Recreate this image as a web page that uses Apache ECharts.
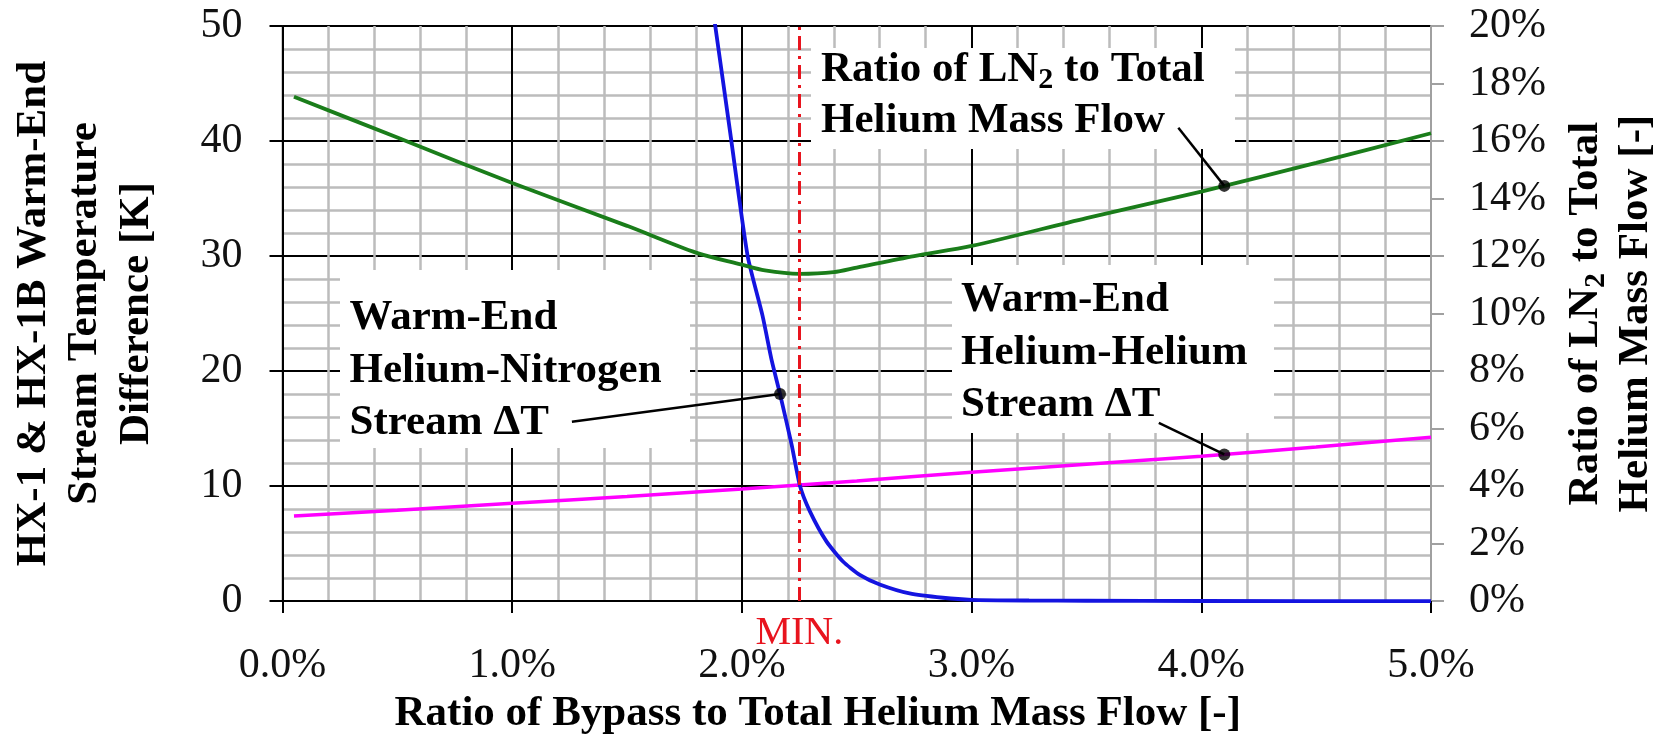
<!DOCTYPE html>
<html><head><meta charset="utf-8">
<script src="https://cdn.jsdelivr.net/npm/echarts@6/dist/echarts.min.js"></script>
<style>html,body{margin:0;padding:0;background:#fff}#c{width:1669px;height:740px}</style>
</head><body><div id="c"></div>
<script>
const FONT = '"Liberation Serif","Times New Roman",serif';

// ---- data (x = ratio of bypass to total helium mass flow, %) ----
const xLabels = ['0.0%', '1.0%', '2.0%', '3.0%', '4.0%', '5.0%'];
const rightLabels = ['0%', '2%', '4%', '6%', '8%', '10%', '12%', '14%', '16%', '18%', '20%'];

const ln2X   = [0.05, 0.5, 1.0, 1.5, 1.8, 2.0, 2.1, 2.25, 2.4, 2.5, 2.75, 3.0, 3.5, 4.0, 4.5, 5.0];
const ln2Pct = [17.54, 16.12, 14.54, 13.05, 12.12, 11.7, 11.5, 11.38, 11.44, 11.6, 12.0, 12.35, 13.32, 14.24, 15.24, 16.27];

const heHeX  = [0.05, 0.5, 1.0, 1.5, 2.0, 2.5, 3.0, 3.5, 4.0, 4.5, 5.0];
const heHeDT = [7.4, 7.9, 8.5, 9.1, 9.75, 10.45, 11.2, 11.9, 12.6, 13.4, 14.25];

const heN2X  = [1.85, 1.884, 1.95, 2.025, 2.09, 2.13, 2.166, 2.216, 2.253, 2.296, 2.368, 2.44, 2.513, 2.60, 2.73, 2.875, 3.0, 3.25, 3.5, 4.0, 5.0];
const heN2DT = [54.8, 50, 40.6, 30, 24.8, 20.9, 18.0, 13.65, 10.0, 7.8, 5.19, 3.44, 2.28, 1.45, 0.67, 0.29, 0.11, 0.05, 0.03, 0.01, 0];

const minBypass = 2.25;

// callout dots and leader-line start points (data coordinates)
const ln2Dot   = [4.1, 14.44];  const ln2Lead   = [3.90, 16.46];
const heN2Dot  = [2.166, 18.0]; const heN2Lead  = [1.26, 15.6];
const heHeDot  = [4.1, 12.75];  const heHeLead  = [3.815, 15.5];

const pairs = (xs, ys) => xs.map((x, i) => [x, ys[i]]);

function leader(from, to) {
  return {
    silent: true, symbol: ['none', 'none'], animation: false,
    lineStyle: { color: '#000', width: 2.5, type: 'solid' },
    label: { show: false },
    data: [[{ coord: from }, { coord: to }]]
  };
}

const boldText = { fontFamily: FONT, fontWeight: 'bold', fontSize: 43, fill: '#000' };

const chart = echarts.init(document.getElementById('c'));
chart.setOption({
  animation: false,
  backgroundColor: '#fff',
  grid: { left: 281, right: 236, top: 26, bottom: 138, show: true, borderColor: '#a0a0a0', borderWidth: 2, backgroundColor: 'transparent' },
  xAxis: {
    type: 'value', min: 0, max: 5, interval: 1,
    axisLine: { onZero: false, lineStyle: { color: '#000', width: 2 } },
    axisTick: { show: true, length: 12, inside: false, lineStyle: { color: '#000', width: 2 } },
    axisLabel: { margin: 44, fontFamily: FONT, fontSize: 42, color: '#111', formatter: v => xLabels[Math.round(v)] },
    splitLine: { show: true, lineStyle: { color: '#000', width: 2 } },
    minorTick: { show: false, splitNumber: 5 },
    minorSplitLine: { show: true, lineStyle: { color: '#bcbcbc', width: 2.5 } },
    name: 'Ratio of Bypass to Total Helium Mass Flow [-]',
    nameLocation: 'middle', nameGap: 84,
    nameTextStyle: { fontFamily: FONT, fontWeight: 'bold', fontSize: 43, color: '#000', padding: [0, 78, 0, 0] }
  },
  yAxis: [
    {
      type: 'value', min: 0, max: 50, interval: 10, position: 'left',
      axisLine: { show: true, lineStyle: { color: '#000', width: 2 } },
      axisTick: { show: true, length: 13, lineStyle: { color: '#000', width: 2 } },
      axisLabel: { margin: 40, fontFamily: FONT, fontSize: 42, color: '#111' },
      splitLine: { show: true, lineStyle: { color: '#000', width: 2 } },
      minorTick: { show: false, splitNumber: 5 },
      minorSplitLine: { show: true, lineStyle: { color: '#bcbcbc', width: 2.5 } },
      name: 'HX-1 & HX-1B Warm-End\nStream Temperature\nDifference [K]',
      nameLocation: 'middle', nameGap: 120, nameRotate: 90,
      nameTextStyle: { fontFamily: FONT, fontWeight: 'bold', fontSize: 43, color: '#000', lineHeight: 51.5 }
    },
    {
      type: 'value', min: 0, max: 20, interval: 2, position: 'right',
      axisLine: { show: true, lineStyle: { color: '#a0a0a0', width: 2 } },
      axisTick: { show: true, length: 13, lineStyle: { color: '#a0a0a0', width: 2 } },
      axisLabel: { margin: 38, fontFamily: FONT, fontSize: 42, color: '#111', formatter: v => rightLabels[Math.round(v / 2)] },
      splitLine: { show: false },
      name: '{b|Ratio of LN}{s|2}{b| to Total}\n{b|Helium Mass Flow [-]}',
      nameLocation: 'middle', nameGap: 130, nameRotate: 90,
      nameTextStyle: {
        fontFamily: FONT, fontWeight: 'bold', fontSize: 43, color: '#000', lineHeight: 50,
        rich: {
          b: { fontFamily: FONT, fontWeight: 'bold', fontSize: 43, color: '#000', lineHeight: 50 },
          s: { fontFamily: FONT, fontWeight: 'bold', fontSize: 30, color: '#000', lineHeight: 23, verticalAlign: 'bottom' }
        }
      }
    }
  ],
  graphic: [
    { type: 'rect', z: 1, silent: true, shape: { x: 811, y: 48, width: 424, height: 101 }, style: { fill: '#fff' } },
    { type: 'rect', z: 1, silent: true, shape: { x: 340, y: 270, width: 350, height: 178 }, style: { fill: '#fff' } },
    { type: 'rect', z: 1, silent: true, shape: { x: 952, y: 265, width: 322, height: 168 }, style: { fill: '#fff' } },
    {
      type: 'text', z: 10, silent: true, x: 821, y: 44.5,
      style: {
        text: '{b|Ratio of LN}{s|2}{b| to Total}\n{b|Helium Mass Flow}',
        verticalAlign: 'top', align: 'left',
        rich: {
          b: Object.assign({ lineHeight: 51 }, boldText),
          s: { fontFamily: FONT, fontWeight: 'bold', fontSize: 30, fill: '#000', lineHeight: 23, verticalAlign: 'bottom' }
        }
      }
    },
    {
      type: 'text', z: 10, silent: true, x: 349.5, y: 292,
      style: Object.assign({ text: 'Warm-End\nHelium-Nitrogen\nStream \u0394T', verticalAlign: 'top', align: 'left', lineHeight: 52.5 }, boldText)
    },
    {
      type: 'text', z: 10, silent: true, x: 961, y: 274,
      style: Object.assign({ text: 'Warm-End\nHelium-Helium\nStream \u0394T', verticalAlign: 'top', align: 'left', lineHeight: 52.5 }, boldText)
    }
  ],
  series: [
    {
      name: 'Warm-End Helium-Helium Stream ΔT', type: 'line', yAxisIndex: 0, z: 3,
      data: pairs(heHeX, heHeDT), smooth: 0.3, showSymbol: false,
      lineStyle: { color: '#ff00ff', width: 3.5 }, itemStyle: { color: '#ff00ff' },
      markLine: {
        silent: true, symbol: ['none', 'none'], animation: false,
        lineStyle: { color: '#e8141e', width: 3, type: [14, 6, 3, 6] },
        label: { show: true, position: 'start', formatter: 'MIN.', color: '#e8141e', fontFamily: FONT, fontSize: 40, distance: 12 },
        data: [{ xAxis: minBypass }]
      }
    },
    {
      name: 'Warm-End Helium-Nitrogen Stream ΔT', type: 'line', yAxisIndex: 0, z: 3,
      data: pairs(heN2X, heN2DT), smooth: 0.2, showSymbol: false, clip: true,
      lineStyle: { color: '#1414e0', width: 3.8 }, itemStyle: { color: '#1414e0' }
    },
    {
      name: 'Ratio of LN2 to Total Helium Mass Flow', type: 'line', yAxisIndex: 1, z: 3,
      data: pairs(ln2X, ln2Pct), smooth: 0.3, showSymbol: false,
      lineStyle: { color: '#1a7d1a', width: 3.8 }, itemStyle: { color: '#1a7d1a' }
    },
    { type: 'scatter', yAxisIndex: 1, z: 6, symbolSize: 12, itemStyle: { color: '#000' }, data: [ln2Dot], markLine: leader(ln2Lead, ln2Dot) },
    { type: 'scatter', yAxisIndex: 0, z: 6, symbolSize: 12, itemStyle: { color: '#000' }, data: [heN2Dot], markLine: leader(heN2Lead, heN2Dot) },
    { type: 'scatter', yAxisIndex: 0, z: 6, symbolSize: 12, itemStyle: { color: '#000' }, data: [heHeDot], markLine: leader(heHeLead, heHeDot) }
  ]
});
</script>
</body></html>
